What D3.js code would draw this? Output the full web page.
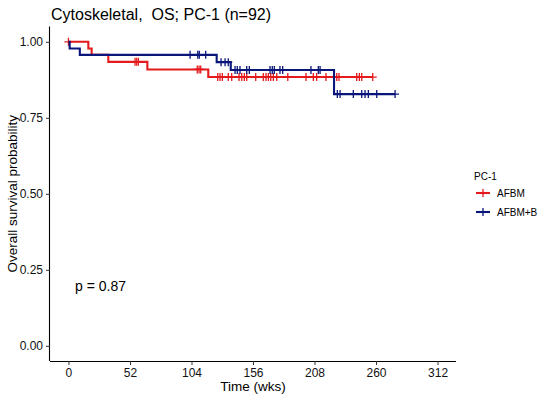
<!DOCTYPE html>
<html><head><meta charset="utf-8">
<script src="https://cdn.jsdelivr.net/npm/d3@7"></script>
<style>body{margin:0;background:#fff} text{font-family:"Liberation Sans",Arial,sans-serif}</style>
</head><body>
<svg id="c" width="550" height="400"></svg>
<script>
const titleText = "Cytoskeletal,  OS; PC-1 (n=92)";
const xTicks = [0, 52, 104, 156, 208, 260, 312];
const yTicks = [0, 0.25, 0.5, 0.75, 1];
const yTickLabels = ["0.00", "0.25", "0.50", "0.75", "1.00"];
const groups = ["AFBM", "AFBM+B"];
const colors = ["#e41a1c", "#0a167a"];

const afbmEventTimes = [16.8, 19.6, 33.7, 66.7, 118.2];
const afbmSurv = [1, 0.978, 0.957, 0.934, 0.909, 0.884];
const afbmEnd = 257.2;
const afbmCensor = [0, 56.3, 57.7, 59.1, 108.9, 110.4, 111.8,
  126.2, 128.1, 130.1, 135.1, 138.0, 144.2, 146.5, 148.7, 150.7, 158.3, 164.7, 167.0,
  169.0, 171.0, 173.2, 176.1, 185.4, 200.8, 207.0, 209.8, 217.7, 226.8, 228.7, 243.7,
  245.9, 247.9, 257.2];

const afbmbEventTimes = [1.0, 9.6, 125.3, 137.2, 224.5];
const afbmbSurv = [1, 0.978, 0.957, 0.933, 0.907, 0.828];
const afbmbEnd = 276.1;
const afbmbCensor = [102.8, 109.3, 110.6, 116.0, 129.0, 132.4, 135.1,
  140.8, 142.7, 145.0, 150.7, 152.9, 170.4, 172.3, 174.0, 178.8, 181.1, 205.0, 211.2, 212.7,
  227.3, 229.6, 240.8, 247.9, 250.7, 253.5, 260.6, 276.1];

const pValueText = "p = 0.87";

const series = [
  {name: groups[0], ev: afbmEventTimes, s: afbmSurv, end: afbmEnd, cens: afbmCensor, color: colors[0]},
  {name: groups[1], ev: afbmbEventTimes, s: afbmbSurv, end: afbmbEnd, cens: afbmbCensor, color: colors[1]}
];

const svg = d3.select("#c");
const P = {l: 50, r: 456, t: 26.6, b: 361};
const xMax = 312;
const x = d3.scaleLinear().domain([-0.05 * xMax, xMax * 1.05]).range([P.l, P.r]);
const y = d3.scaleLinear().domain([-0.05, 1.05]).range([P.b, P.t]);

// axes
const xAxis = d3.axisBottom(x).tickValues(xTicks).tickSize(4).tickPadding(3).tickSizeOuter(0);
const yAxis = d3.axisLeft(y).tickValues(yTicks).tickFormat((d, i) => yTickLabels[i]).tickSize(4).tickPadding(3).tickSizeOuter(0);
const gx = svg.append("g").attr("transform", `translate(0,${P.b})`).call(xAxis);
const gy = svg.append("g").attr("transform", `translate(${P.l},0)`).call(yAxis);
gx.select(".domain").attr("d", `M${P.l},0.5H${P.r}`).attr("stroke", "#000").attr("stroke-width", 1.1);
gy.select(".domain").attr("d", `M-0.5,${P.t}V${P.b}`).attr("stroke", "#000").attr("stroke-width", 1.1);
[gx, gy].forEach(g => {
  g.selectAll(".tick line").attr("stroke", "#333").attr("stroke-width", 1);
  g.selectAll(".tick text").attr("fill", "#111").style("font-size", "12px").style("font-family", "'Liberation Sans',Arial,sans-serif");
});

// curves
const line = d3.line().x(d => x(d[0])).y(d => y(d[1])).curve(d3.curveStepAfter);
function survAt(sr, t) {
  let k = 0;
  sr.ev.forEach(e => { if (e <= t) k++; });
  return sr.s[k];
}
series.forEach(sr => {
  const pts = [[0, sr.s[0]]];
  sr.ev.forEach((t, i) => pts.push([t, sr.s[i + 1]]));
  pts.push([sr.end, sr.s[sr.s.length - 1]]);
  svg.append("path").attr("d", line(pts)).attr("fill", "none")
    .attr("stroke", sr.color).attr("stroke-width", 2.1);
  const g = svg.append("g");
  sr.cens.forEach(t => {
    const cx = x(t), cy = y(survAt(sr, t));
    g.append("path").attr("d", `M${cx},${cy - 4}V${cy + 4}M${cx - 4},${cy}H${cx + 4}`)
      .attr("stroke", sr.color).attr("stroke-width", 1.3);
  });
});

// title and labels
svg.append("text").attr("x", 51).attr("y", 20).style("font-size", "16px").style("white-space", "pre")
  .attr("xml:space", "preserve").attr("fill", "#000").text(titleText);
svg.append("text").attr("x", (P.l + P.r) / 2).attr("y", 391).attr("text-anchor", "middle")
  .style("font-size", "13.5px").attr("fill", "#000").text("Time (wks)");
svg.append("text").attr("transform", `translate(17,${(P.t + P.b) / 2}) rotate(-90)`).attr("text-anchor", "middle")
  .style("font-size", "13.5px").attr("fill", "#000").text("Overall survival probability");
svg.append("text").attr("x", 75).attr("y", 291).style("font-size", "14px").attr("fill", "#000").text(pValueText);

// legend
svg.append("text").attr("x", 474).attr("y", 180).style("font-size", "10px").attr("fill", "#000").text("PC-1");
series.forEach((sr, i) => {
  const ly = 193 + i * 19;
  svg.append("line").attr("x1", 476).attr("x2", 490).attr("y1", ly).attr("y2", ly)
    .attr("stroke", sr.color).attr("stroke-width", 2.1);
  svg.append("path").attr("d", `M483,${ly - 4}V${ly + 4}M479,${ly}H487`).attr("stroke", sr.color).attr("stroke-width", 1.3);
  svg.append("text").attr("x", 497).attr("y", ly + 3.6).style("font-size", "10px").attr("fill", "#000").text(sr.name);
});
</script>
</body></html>
